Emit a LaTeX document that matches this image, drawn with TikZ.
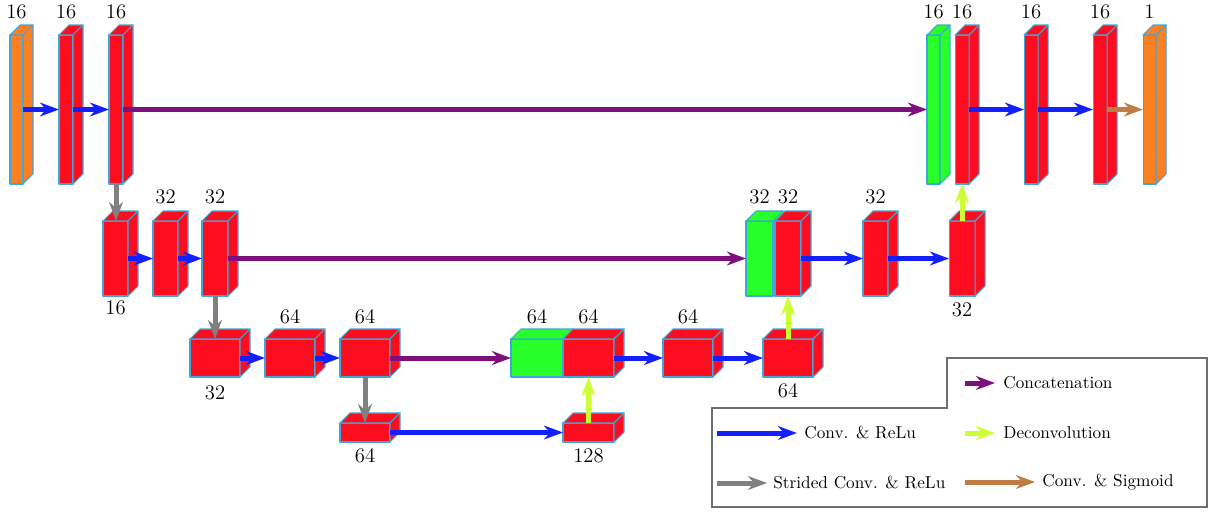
\documentclass[tikz,border=0pt]{standalone}
\usetikzlibrary{arrows.meta,fit}
\definecolor{cred}{RGB}{252,14,32}
\definecolor{corange}{RGB}{250,128,34}
\definecolor{cgreen}{RGB}{38,255,42}
\definecolor{cblue}{RGB}{18,32,255}
\definecolor{cpurple}{RGB}{125,16,125}
\definecolor{cgray}{RGB}{128,128,128}
\definecolor{cyellow}{RGB}{204,255,51}
\definecolor{cbrown}{RGB}{190,125,68}
\definecolor{cedge}{RGB}{64,165,215}
\definecolor{cframe}{RGB}{110,110,110}
\tikzset{
  cubeedge/.style={draw=cedge, line width=0.6pt, line join=round},
  arr/.style={line width=2.9pt, -{Stealth[length=11pt,width=8pt,inset=3.5pt]}},
  conv/.style={arr, draw=cblue, fill=cblue},
  concat/.style={arr, draw=cpurple, fill=cpurple},
  strided/.style={arr, draw=cgray, fill=cgray},
  deconv/.style={arr, draw=cyellow, fill=cyellow},
  sigm/.style={arr, draw=cbrown, fill=cbrown},
  numlab/.style={font=\large, inner sep=0pt},
  legtext/.style={anchor=west, inner sep=0pt},
}
% name, x1, y1, x2, y2, color, depth
\newcommand{\cubeblock}[7]{%
  \filldraw[cubeedge, fill=#6] (#2,#3) rectangle (#4,#5);
  \filldraw[cubeedge, fill=#6] (#2,#3) -- (#2+#7,#3-#7) -- (#4+#7,#3-#7) -- (#4,#3) -- cycle;
  \filldraw[cubeedge, fill=#6] (#4,#3) -- (#4+#7,#3-#7) -- (#4+#7,#5-#7) -- (#4,#5) -- cycle;
  \node[fit={(#2,#3)(#4,#5)}, inner sep=0pt, outer sep=0pt] (#1) {};
}
\begin{document}
\begin{tikzpicture}[x=0.58pt, y=-0.58pt]
\useasboundingbox (0,0) rectangle (1213,513);

% top row
\cubeblock{a1}{10}{35}{23}{184}{corange}{10}
\cubeblock{a2}{59}{35}{73}{184}{cred}{10}
\cubeblock{a3}{109}{35}{123}{184}{cred}{10}
\cubeblock{a4}{927}{35}{940}{184}{cgreen}{10}
\cubeblock{a5}{955}{35}{969}{184}{cred}{10}
\cubeblock{a6}{1024}{35}{1038}{184}{cred}{10}
\cubeblock{a7}{1093}{35}{1107}{184}{cred}{10}
\cubeblock{a8}{1143}{35}{1156}{184}{corange}{10}

% second row
\cubeblock{b1}{103}{221}{128}{296}{cred}{10}
\cubeblock{b2}{153}{221}{178}{296}{cred}{10}
\cubeblock{b3}{202}{221}{228}{296}{cred}{10}
\cubeblock{b4}{746}{221}{773}{296}{cgreen}{10}
\cubeblock{b5}{775}{221}{801}{296}{cred}{10}
\cubeblock{b6}{863}{221}{888}{296}{cred}{10}
\cubeblock{b7}{949}{221}{975}{296}{cred}{10}

% third row
\cubeblock{c1}{190}{339}{240}{377}{cred}{10}
\cubeblock{c2}{265}{339}{315}{377}{cred}{10}
\cubeblock{c3}{340}{339}{390}{377}{cred}{10}
\cubeblock{c4}{511}{339}{563}{377}{cgreen}{10}
\cubeblock{c5}{563}{339}{614}{377}{cred}{10}
\cubeblock{c6}{663}{339}{713}{377}{cred}{10}
\cubeblock{c7}{763}{339}{813}{377}{cred}{10}

% bottom row
\cubeblock{d1}{340}{423}{390}{442}{cred}{10}
\cubeblock{d2}{563}{423}{614}{442}{cred}{10}

% labels
\node[numlab] (la1) at (16.5,12) {16};
\node[numlab] (la2) at (66,12) {16};
\node[numlab] (la3) at (116,12) {16};
\node[numlab] (la4) at (933.5,12) {16};
\node[numlab] (la5) at (962,12) {16};
\node[numlab] (la6) at (1031,12) {16};
\node[numlab] (la7) at (1100,12) {16};
\node[numlab] (la8) at (1149.5,12) {1};

\node[numlab] (lb1) at (115.5,308) {16};
\node[numlab] (lb2) at (165.5,197) {32};
\node[numlab] (lb3) at (215,197) {32};
\node[numlab] (lb4) at (759.5,197) {32};
\node[numlab] (lb5) at (788,197) {32};
\node[numlab] (lb6) at (875.5,197) {32};
\node[numlab] (lb7) at (962,310) {32};

\node[numlab] (lc1) at (215,393) {32};
\node[numlab] (lc2) at (290,317) {64};
\node[numlab] (lc3) at (365,317) {64};
\node[numlab] (lc4) at (537,317) {64};
\node[numlab] (lc5) at (588.5,317) {64};
\node[numlab] (lc6) at (688,317) {64};
\node[numlab] (lc7) at (788,391) {64};

\node[numlab] (ld1) at (365,456) {64};
\node[numlab] (ld2) at (588.5,456) {128};

% convolution arrows
\draw[conv] (a1.east) -- (a2.west);
\draw[conv] (a2.east) -- (a3.west);
\draw[conv] (a5.east) -- (a6.west);
\draw[conv] (a6.east) -- (a7.west);
\draw[conv] (b1.east) -- (b2.west);
\draw[conv] (b2.east) -- (b3.west);
\draw[conv] (b5.east) -- (b6.west);
\draw[conv] (b6.east) -- (b7.west);
\draw[conv] (c1.east) -- (c2.west);
\draw[conv] (c2.east) -- (c3.west);
\draw[conv] (c5.east) -- (c6.west);
\draw[conv] (c6.east) -- (c7.west);
\draw[conv] (d1.east) -- (d2.west);
\draw[sigm] (a7.east) -- (a8.west);

% concatenations
\draw[concat] (a3.east) -- (a4.west);
\draw[concat] (b3.east) -- (b4.west);
\draw[concat] (c3.east) -- (c4.west);

% strided
\draw[strided] (a3.south) -- (a3.south |- b1.north);
\draw[strided] (b3.south) -- (b3.south |- c1.north);
\draw[strided] (c3.south) -- (c3.south |- d1.north);

% deconvolutions
\draw[deconv] (d2.north) -- (d2.north |- c5.south);
\draw[deconv] (c7.north) -- (c7.north |- b5.south);
\draw[deconv] (b7.north) -- (b7.north |- a5.south);

% legend
\draw[draw=cframe, line width=0.7pt] (947,358) -- (1207,358) -- (1207,507) -- (712,507) -- (712,408) -- (947,408) -- cycle;
\coordinate (g1s) at (965,383); \coordinate (g1e) at (995,383);
\coordinate (g2s) at (717,433); \coordinate (g2e) at (797,433);
\coordinate (g3s) at (965,433); \coordinate (g3e) at (995,433);
\coordinate (g4s) at (717,483); \coordinate (g4e) at (767,483);
\coordinate (g5s) at (965,482); \coordinate (g5e) at (1035,482);
\draw[concat] (g1s) -- (g1e);
\draw[conv] (g2s) -- (g2e);
\draw[deconv] (g3s) -- (g3e);
\draw[strided] (g4s) -- (g4e);
\draw[sigm] (g5s) -- (g5e);
\node[legtext] (t1) at (1003,383) {Concatenation};
\node[legtext] (t2) at (804,433) {Conv. \& ReLu};
\node[legtext] (t3) at (1003,433) {Deconvolution};
\node[legtext] (t4) at (773,483) {Strided Conv. \& ReLu};
\node[legtext] (t5) at (1042,482) {Conv. \& Sigmoid};
\end{tikzpicture}
\end{document}
